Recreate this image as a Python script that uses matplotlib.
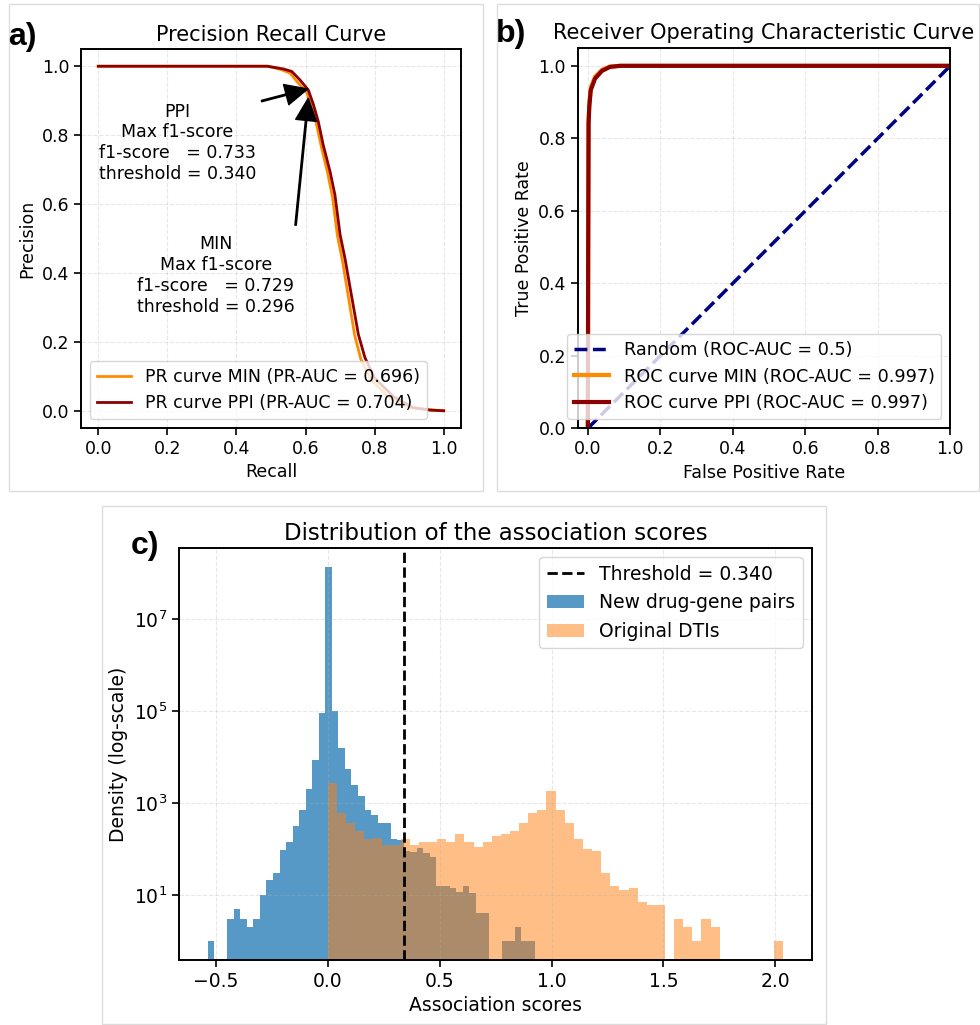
import numpy as np
import matplotlib.pyplot as plt
from matplotlib.patches import Rectangle

# precision-recall curves (MIN / PPI networks)
recall_min = [0.0, 0.49, 0.53, 0.555, 0.58, 0.603, 0.618, 0.632, 0.646, 0.664, 0.678,
              0.692, 0.706, 0.72, 0.742, 0.76, 0.79, 0.84, 0.9, 0.96, 1.0]
precision_min = [1.0, 1.0, 0.99, 0.98, 0.95, 0.925, 0.88, 0.83, 0.765, 0.69, 0.62,
                 0.51, 0.44, 0.355, 0.22, 0.15, 0.09, 0.04, 0.01, 0.003, 0.0]
recall_ppi = [0.0, 0.49, 0.536, 0.56, 0.584, 0.608, 0.623, 0.637, 0.651, 0.671, 0.685,
              0.70, 0.714, 0.729, 0.753, 0.772, 0.80, 0.854, 0.911, 0.96, 1.0]
precision_ppi = [1.0, 1.0, 0.992, 0.985, 0.96, 0.931, 0.888, 0.839, 0.772, 0.694, 0.627,
                 0.511, 0.443, 0.357, 0.221, 0.154, 0.095, 0.042, 0.009, 0.002, 0.0]

# best f1 points
best_ppi = (0.614, 0.936)
best_min = (0.610, 0.928)

# ROC curves
fpr_min = [0.0, 0.001, 0.002, 0.004, 0.008, 0.02, 0.039, 0.061, 0.089, 1.0]
tpr_min = [0.0, 0.5, 0.85, 0.895, 0.94, 0.97, 0.989, 0.998, 1.0, 1.0]
fpr_ppi = [0.0, 0.001, 0.002, 0.004, 0.008, 0.02, 0.039, 0.061, 0.089, 1.0]
tpr_ppi = [0.0, 0.5, 0.84, 0.887, 0.933, 0.965, 0.986, 0.997, 1.0, 1.0]

# association score histograms (counts per bin, 50 bins each)
new_pairs_range = (-0.537, 0.924)
new_pairs_counts = [1, 0, 0, 3, 5, 3, 2, 3, 10, 21,
                    31, 95, 145, 324, 708, 2040, 8500, 93000, 138000000, 100000,
                    16000, 5500, 2450, 1400, 725, 550, 363, 380, 170, 162,
                    91, 87, 107, 83, 66, 16, 16, 14, 12, 16,
                    11, 4, 4, 0, 0, 1, 1, 2, 1, 1]
dti_range = (0.0, 2.036)
dti_counts = [2750, 600, 370, 250, 170, 177, 123, 123, 163, 123,
              145, 145, 170, 145, 210, 145, 109, 145, 192, 218,
              245, 370, 600, 727, 1820, 727, 363, 170, 103, 91,
              30, 16, 13, 14, 7, 6, 6, 0, 3, 2,
              1, 3, 2, 0, 0, 0, 0, 0, 0, 1]
threshold = 0.340

W, H = 980, 1025


def px_axes(fig, left, top, right, bottom):
    return fig.add_axes([left / W, 1 - bottom / H, (right - left) / W, (bottom - top) / H])


def style(ax, fs):
    ax.grid(True, linestyle='--', alpha=0.3)
    ax.tick_params(labelsize=fs, width=1.2, length=5)
    for s in ax.spines.values():
        s.set_linewidth(1.4)


def main():
    fig = plt.figure(figsize=(W / 100, H / 100), dpi=100)

    # panel frames
    for (l, t, r, b) in [(9, 4, 483, 491), (497, 4, 979, 491), (102, 506, 826, 1024)]:
        fig.patches.append(Rectangle((l / W, 1 - b / H), (r - l) / W, (b - t) / H,
                                     transform=fig.transFigure, fill=False,
                                     edgecolor='#dcdcdc', lw=1))

    # a) precision recall
    ax1 = px_axes(fig, 81, 49, 461, 428)
    ax1.plot(recall_min, precision_min, color='darkorange', lw=2,
             label='PR curve MIN (PR-AUC = 0.696)')
    ax1.plot(recall_ppi, precision_ppi, color='darkred', lw=2,
             label='PR curve PPI (PR-AUC = 0.704)')
    arrow = dict(facecolor='black', shrink=0.05, width=1, headwidth=15, headlength=16)
    ax1.annotate('PPI\nMax f1-score\nf1-score   = 0.733\nthreshold = 0.340',
                 xy=best_ppi, xytext=(0.229, 0.778), ha='center', va='center',
                 fontsize=12.5, arrowprops=arrow)
    ax1.annotate('MIN\nMax f1-score\nf1-score   = 0.729\nthreshold = 0.296',
                 xy=best_min, xytext=(0.340, 0.393), ha='center', va='center',
                 fontsize=12.5, arrowprops=arrow)
    ax1.set_xlim(-0.05, 1.05)
    ax1.set_ylim(-0.05, 1.05)
    ax1.set_xlabel('Recall', fontsize=12.5)
    ax1.set_ylabel('Precision', fontsize=12.5)
    ax1.set_title('Precision Recall Curve', fontsize=15)
    ax1.legend(loc='lower left', fontsize=12.5)
    style(ax1, 12.5)

    # b) ROC
    ax2 = px_axes(fig, 577.7, 47.7, 950.3, 428.3)
    ax2.plot([0, 1], [0, 1], color='navy', lw=2.5, ls='--', label='Random (ROC-AUC = 0.5)')
    ax2.plot(fpr_min, tpr_min, color='darkorange', lw=3,
             label='ROC curve MIN (ROC-AUC = 0.997)')
    ax2.plot(fpr_ppi, tpr_ppi, color='darkred', lw=3,
             label='ROC curve PPI (ROC-AUC = 0.997)')
    ax2.set_xlim(-0.028, 1.0)
    ax2.set_ylim(0.0, 1.05)
    ax2.set_xlabel('False Positive Rate', fontsize=12.5)
    ax2.set_ylabel('True Positive Rate', fontsize=12.5)
    ax2.set_title('Receiver Operating Characteristic Curve', fontsize=15)
    ax2.legend(loc='lower right', fontsize=12.7)
    style(ax2, 12.5)

    # c) score distribution
    ax3 = px_axes(fig, 178.7, 548, 812.3, 960)
    edges_new = np.linspace(new_pairs_range[0], new_pairs_range[1], len(new_pairs_counts) + 1)
    edges_dti = np.linspace(dti_range[0], dti_range[1], len(dti_counts) + 1)
    ax3.axvline(threshold, color='black', ls='--', lw=2, label='Threshold = %.3f' % threshold)
    ax3.hist(edges_new[:-1], bins=edges_new, weights=new_pairs_counts, color='tab:blue',
             alpha=0.75, log=True, label='New drug-gene pairs')
    ax3.hist(edges_dti[:-1], bins=edges_dti, weights=dti_counts, color='tab:orange',
             alpha=0.5, log=True, label='Original DTIs')
    ax3.set_xlim(-0.666, 2.165)
    ax3.set_ylim(10 ** -0.41, 10 ** 8.55)
    ax3.set_yticks([1e1, 1e3, 1e5, 1e7])
    ax3.set_xlabel('Association scores', fontsize=13.5)
    ax3.set_ylabel('Density (log-scale)', fontsize=13.5)
    ax3.set_title('Distribution of the association scores', fontsize=16.5)
    ax3.legend(loc='upper right', fontsize=13.5)
    style(ax3, 13.5)
    ax3.minorticks_off()

    lab = dict(fontsize=23, fontweight='bold', family='Liberation Sans')
    fig.text(8 / W, 1 - 45 / H, 'a)', **lab)
    fig.text(496 / W, 1 - 42 / H, 'b)', **lab)
    fig.text(131 / W, 1 - 554 / H, 'c)', **lab)

    fig.savefig('out.png', dpi=100)


if __name__ == "__main__":
    main()
